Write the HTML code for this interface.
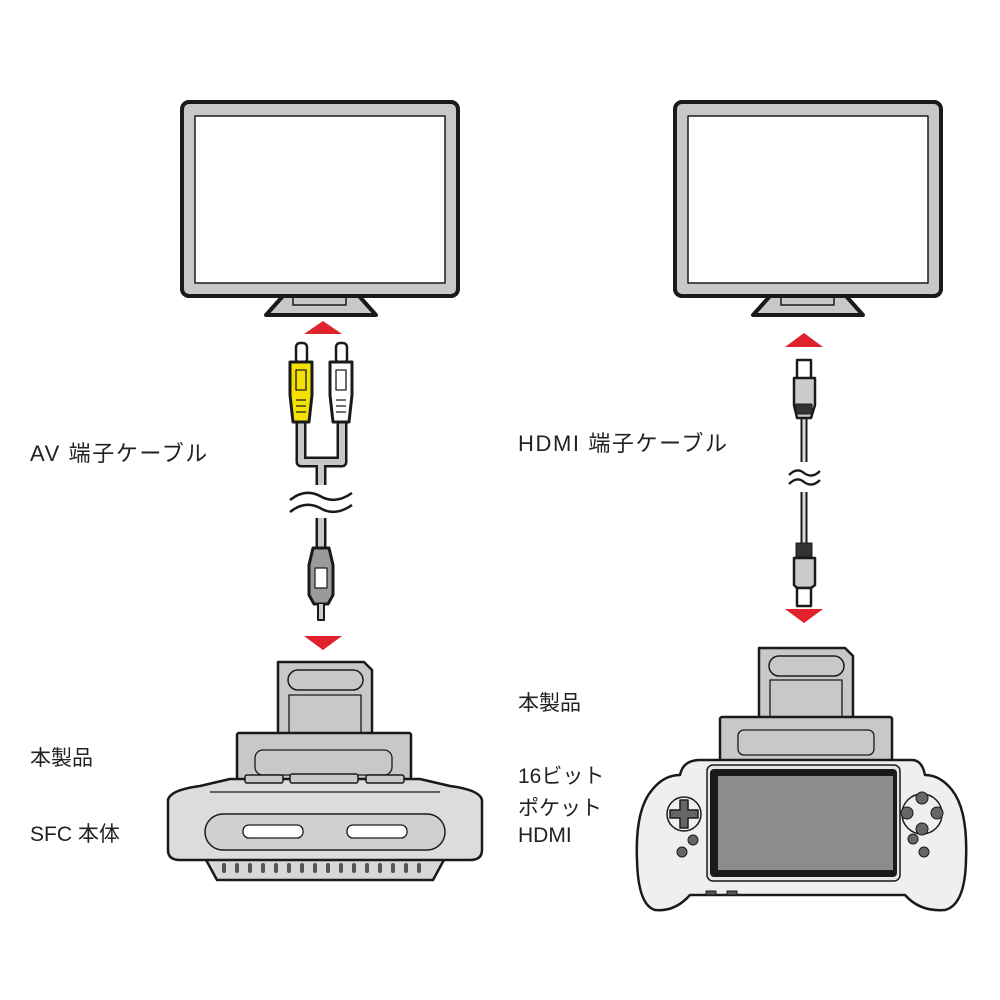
<!DOCTYPE html>
<html><head><meta charset="utf-8"><style>
html,body{margin:0;padding:0;background:#fff;}
.t{position:absolute;font-family:"Liberation Sans","Noto Sans CJK JP",sans-serif;font-size:21px;color:#222;white-space:nowrap;}
.c{font-size:22px;letter-spacing:1.6px;}
</style></head><body>
<div style="position:relative;width:1000px;height:1000px;overflow:hidden">
<svg width="1000" height="1000" viewBox="0 0 1000 1000" style="position:absolute;left:0;top:0">
<g stroke="#1a1a1a" stroke-linejoin="round">
<path d="M283,296 L266,315 L376,315 L359,296 Z" fill="#c8c8c8" stroke-width="4"/>
<rect x="293" y="295" width="53" height="10" fill="#c8c8c8" stroke-width="1.5"/>
<rect x="182" y="102" width="276" height="194" rx="7" fill="#c8c8c8" stroke-width="4"/>
<rect x="195" y="116" width="250" height="167" fill="#fff" stroke-width="1.5"/>
<path d="M770,296 L753,315 L863,315 L846,296 Z" fill="#c8c8c8" stroke-width="4"/>
<rect x="781" y="295" width="53" height="10" fill="#c8c8c8" stroke-width="1.5"/>
<rect x="675" y="102" width="266" height="194" rx="7" fill="#c8c8c8" stroke-width="4"/>
<rect x="688" y="116" width="240" height="167" fill="#fff" stroke-width="1.5"/>
</g>
<g fill="#e0222c">
<path d="M304,334 L342,334 L323,321 Z"/>
<path d="M304,636 L342,636 L323,650 Z"/>
<path d="M785,347 L823,347 L804,333 Z"/>
<path d="M785,609 L823,609 L804,623 Z"/>
</g>
<g stroke="#1a1a1a" stroke-linejoin="round">
<path d="M301,420 V462 H342 V420 M321,462 V485" fill="none" stroke="#1a1a1a" stroke-width="11"/>
<path d="M301,420 V462 H342 V420 M321,462 V485" fill="none" stroke="#c8c8c8" stroke-width="6"/>
<path d="M321,518 V550" fill="none" stroke="#1a1a1a" stroke-width="11"/>
<path d="M321,518 V550" fill="none" stroke="#c8c8c8" stroke-width="6"/>
<rect x="296" y="343" width="11" height="20" rx="4" fill="#fff" stroke-width="2.5"/>
<rect x="336" y="343" width="11" height="20" rx="4" fill="#fff" stroke-width="2.5"/>
<path d="M290,362 H312 V395 L309,422 H293 L290,395 Z" fill="#f5e100" stroke-width="3"/>
<path d="M330,362 H352 V395 L349,422 H333 L330,395 Z" fill="#fff" stroke-width="3"/>
<rect x="296" y="370" width="10" height="20" fill="none" stroke-width="1.3"/>
<rect x="336" y="370" width="10" height="20" fill="none" stroke-width="1.3"/>
<path d="M296,400 H306 M296,406 H306 M296,412 H306 M336,400 H346 M336,406 H346 M336,412 H346" stroke-width="1.3"/>
<path d="M313,548 H329 L333,565 V595 L328,604 H314 L309,595 V565 Z" fill="#9a9a9a" stroke-width="3"/>
<rect x="315" y="568" width="12" height="20" fill="#fff" stroke-width="1.2"/>
<path d="M318,604 V620 H324 V604" fill="#ccc" stroke-width="2"/>
</g>
<path d="M290,500 Q305,488 320,496 Q335,505 352,493 M290,512 Q305,500 320,508 Q335,517 352,505" fill="none" stroke="#1a1a1a" stroke-width="2.5"/>
<g stroke="#1a1a1a" stroke-linejoin="round">
<path d="M804,415 V462 M804,492 V545" stroke="#1a1a1a" stroke-width="7" fill="none"/>
<path d="M804,415 V462 M804,492 V545" stroke="#ddd" stroke-width="3" fill="none"/>
<rect x="797" y="360" width="14" height="20" fill="#fff" stroke-width="2.5"/>
<path d="M794,378 H815 V405 L811,418 H797 L794,405 Z" fill="#ccc" stroke-width="2.5"/>
<rect x="796" y="404" width="16" height="10" fill="#333" stroke-width="1"/>
<path d="M794,558 H815 V585 L811,588 H797 L794,585 Z" fill="#ccc" stroke-width="2.5"/>
<rect x="796" y="543" width="16" height="14" fill="#333" stroke-width="1"/>
<rect x="797" y="588" width="14" height="18" fill="#fff" stroke-width="2.5"/>
</g>
<path d="M789,475 Q797,467 804,473 Q812,479 820,471 M789,484 Q797,476 804,482 Q812,488 820,480" fill="none" stroke="#1a1a1a" stroke-width="2.3"/>
<g stroke="#1a1a1a" stroke-linejoin="round" fill="#c8c8c8">
<path d="M278,662 H364 L372,670 V735 H278 Z" stroke-width="2.5"/>
<rect x="288" y="670" width="75" height="20" rx="10" stroke-width="1.5"/>
<rect x="289" y="695" width="72" height="40" stroke-width="1.3"/>
<rect x="237" y="733" width="174" height="50" rx="2" stroke-width="2.5"/>
<rect x="255" y="750" width="137" height="25" rx="8" stroke-width="1.3"/>
<path d="M205,858 L445,858 L433,880 L217,880 Z" fill="#d8d8d8" stroke-width="2.5"/>
<path d="M168,800 Q170,790 200,786 L230,779 H420 L450,786 Q480,790 482,800 V850 Q482,860 470,860 H180 Q168,860 168,850 Z" fill="#dcdcdc" stroke-width="2.5"/>
<path d="M210,792 H440" stroke-width="1.2" fill="none"/>
<rect x="205" y="814" width="240" height="36" rx="18" fill="#d0d0d0" stroke-width="1.5"/>
<rect x="243" y="825" width="60" height="13" rx="6" fill="#fff" stroke-width="1.3"/>
<rect x="347" y="825" width="60" height="13" rx="6" fill="#fff" stroke-width="1.3"/>
<rect x="245" y="775" width="38" height="8" rx="2" stroke-width="1.5"/>
<rect x="290" y="774" width="68" height="9" rx="2" stroke-width="1.5"/>
<rect x="366" y="775" width="38" height="8" rx="2" stroke-width="1.5"/>
</g>
<g fill="#555">
<rect x="222" y="863" width="4" height="10" rx="2"/><rect x="235" y="863" width="4" height="10" rx="2"/><rect x="248" y="863" width="4" height="10" rx="2"/><rect x="261" y="863" width="4" height="10" rx="2"/><rect x="274" y="863" width="4" height="10" rx="2"/><rect x="287" y="863" width="4" height="10" rx="2"/><rect x="300" y="863" width="4" height="10" rx="2"/><rect x="313" y="863" width="4" height="10" rx="2"/><rect x="326" y="863" width="4" height="10" rx="2"/><rect x="339" y="863" width="4" height="10" rx="2"/><rect x="352" y="863" width="4" height="10" rx="2"/><rect x="365" y="863" width="4" height="10" rx="2"/><rect x="378" y="863" width="4" height="10" rx="2"/><rect x="391" y="863" width="4" height="10" rx="2"/><rect x="404" y="863" width="4" height="10" rx="2"/><rect x="417" y="863" width="4" height="10" rx="2"/>
</g>
<g stroke="#1a1a1a" stroke-linejoin="round" fill="#c8c8c8">
<path d="M759,648 H845 L853,656 V718 H759 Z" stroke-width="2.5"/>
<rect x="769" y="656" width="75" height="20" rx="10" stroke-width="1.5"/>
<rect x="770" y="680" width="72" height="38" stroke-width="1.3"/>
<rect x="720" y="717" width="172" height="45" rx="2" stroke-width="2.5"/>
<rect x="738" y="730" width="136" height="25" rx="6" stroke-width="1.3"/>
<path d="M700,760 H912 Q922,760 925,775 Q940,775 952,790 Q968,810 966,860 Q965,905 945,910 Q920,912 905,895 L880,895 H710 L690,895 Q675,912 655,910 Q638,905 637,860 Q635,810 652,790 Q664,775 680,775 Q683,760 700,760 Z" fill="#efefef" stroke-width="2.5"/>
<rect x="707" y="765" width="193" height="116" rx="6" fill="#e6e6e6" stroke-width="1.5"/>
<rect x="710" y="769" width="187" height="108" rx="4" fill="#1a1a1a" stroke="none"/>
<rect x="718" y="776" width="175" height="94" fill="#8c8c8c" stroke="none"/>
<circle cx="684" cy="814" r="17" fill="#efefef" stroke-width="1.5"/>
<path d="M680,800 h8 v10 h10 v8 h-10 v10 h-8 v-10 h-10 v-8 h10 z" fill="#666" stroke-width="1.5"/>
<circle cx="922" cy="814" r="20" fill="#efefef" stroke-width="1.5"/>
<circle cx="922" cy="798" r="6" fill="#666" stroke-width="1"/>
<circle cx="922" cy="829" r="6" fill="#666" stroke-width="1"/>
<circle cx="907" cy="813" r="6" fill="#666" stroke-width="1"/>
<circle cx="937" cy="813" r="6" fill="#666" stroke-width="1"/>
<circle cx="693" cy="840" r="5" fill="#666" stroke-width="1"/>
<circle cx="682" cy="852" r="5" fill="#666" stroke-width="1"/>
<circle cx="913" cy="839" r="5" fill="#666" stroke-width="1"/>
<circle cx="924" cy="852" r="5" fill="#666" stroke-width="1"/>
<rect x="706" y="891" width="10" height="4" fill="#555" stroke-width="1"/>
<rect x="727" y="891" width="10" height="4" fill="#555" stroke-width="1"/>
</g>
</svg>
<div class="t c" style="left:30px;top:436px">AV 端子ケーブル</div>
<div class="t c" style="left:518px;top:426px">HDMI 端子ケーブル</div>
<div class="t" style="left:30px;top:742px">本製品</div>
<div class="t" style="left:30px;top:818px">SFC 本体</div>
<div class="t" style="left:518px;top:687px">本製品</div>
<div class="t" style="left:518px;top:760px">16ビット</div>
<div class="t" style="left:518px;top:792px">ポケット</div>
<div class="t" style="left:518px;top:824px">HDMI</div>
</div>
</body></html>
